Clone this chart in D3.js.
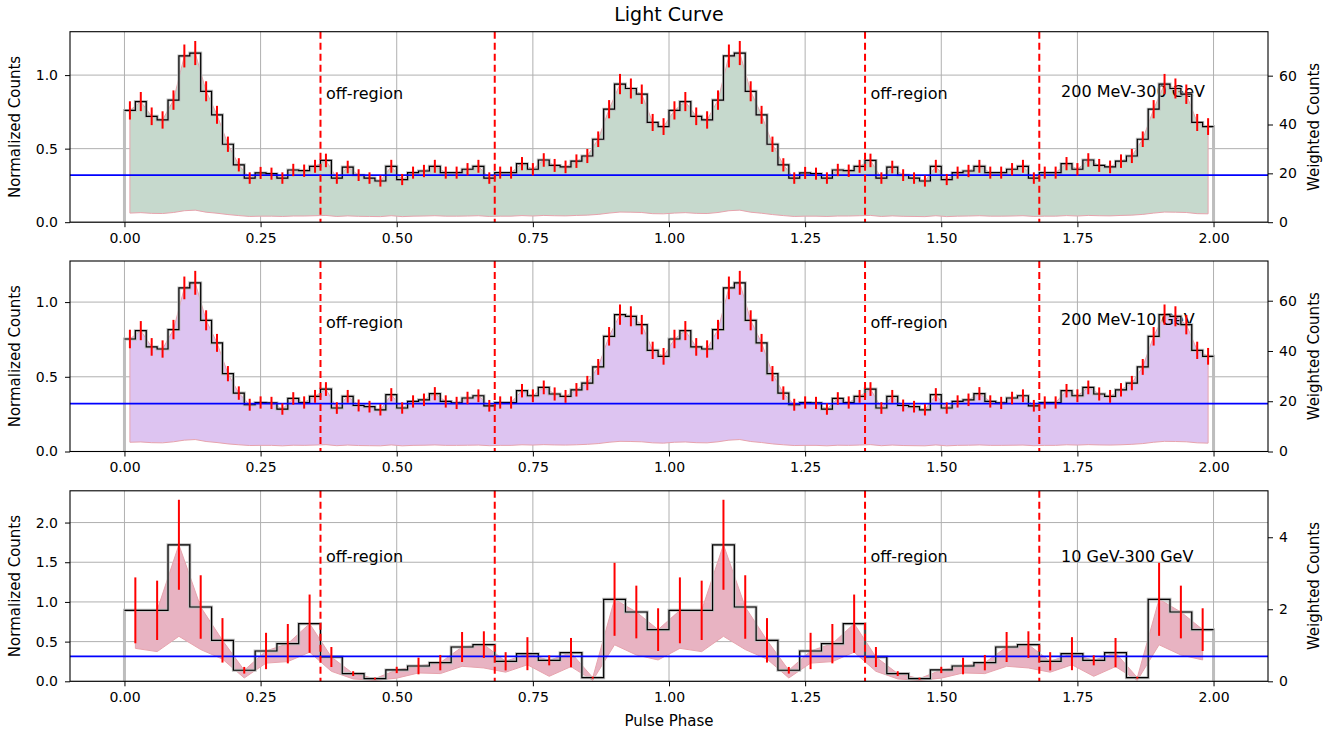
<!DOCTYPE html>
<html>
<head>
<meta charset="utf-8">
<script src="https://cdnjs.cloudflare.com/ajax/libs/d3/7.8.5/d3.min.js"></script>
<style>
	body { margin: 0; background: #fff; }
	text { font-family: "DejaVu Sans", sans-serif; fill: #000; }
</style>
</head>
<body>
<div class="chart"></div>
<script>
// phase bins cover 0..1, the plot shows two cycles (0..2)
var phaseTicks = [0, 0.25, 0.5, 0.75, 1.0, 1.25, 1.5, 1.75, 2.0];
var offRegionEdges = [0.36, 0.68, 1.36, 1.68];
var bandNames = ['200 MeV-300 GeV', '200 MeV-10 GeV', '10 GeV-300 GeV'];

// 200 MeV - 300 GeV, 50 bins
var allCounts = [0.76, 0.82, 0.72, 0.695, 0.83, 1.13, 1.15, 0.89, 0.73, 0.53,
	0.39, 0.30, 0.335, 0.33, 0.30, 0.355, 0.35, 0.38, 0.42, 0.30,
	0.375, 0.32, 0.30, 0.28, 0.38, 0.29, 0.337, 0.348, 0.38, 0.337,
	0.337, 0.36, 0.38, 0.30, 0.337, 0.337, 0.398, 0.36, 0.423, 0.386,
	0.376, 0.415, 0.45, 0.564, 0.768, 0.939, 0.909, 0.87, 0.678, 0.65];
var allErrors = [0.062, 0.065, 0.06, 0.059, 0.066, 0.078, 0.082, 0.068, 0.061, 0.052,
	0.045, 0.039, 0.041, 0.041, 0.039, 0.042, 0.042, 0.044, 0.046, 0.039,
	0.043, 0.04, 0.039, 0.038, 0.044, 0.038, 0.041, 0.042, 0.044, 0.041,
	0.041, 0.042, 0.044, 0.039, 0.041, 0.041, 0.045, 0.042, 0.046, 0.044,
	0.043, 0.046, 0.048, 0.053, 0.062, 0.069, 0.068, 0.066, 0.058, 0.057];

// 200 MeV - 10 GeV, 50 bins
var lowECounts = [0.753, 0.809, 0.70, 0.686, 0.816, 1.095, 1.129, 0.878, 0.727, 0.521,
	0.391, 0.313, 0.328, 0.325, 0.284, 0.355, 0.328, 0.369, 0.418, 0.291,
	0.369, 0.308, 0.30, 0.279, 0.38, 0.291, 0.335, 0.346, 0.387, 0.335,
	0.325, 0.358, 0.373, 0.306, 0.328, 0.328, 0.407, 0.373, 0.429, 0.385,
	0.369, 0.413, 0.458, 0.566, 0.771, 0.916, 0.905, 0.849, 0.677, 0.637];
var lowEErrors = [0.062, 0.064, 0.059, 0.058, 0.065, 0.076, 0.08, 0.067, 0.06, 0.051,
	0.045, 0.04, 0.041, 0.041, 0.038, 0.042, 0.041, 0.043, 0.046, 0.039,
	0.043, 0.04, 0.039, 0.038, 0.044, 0.038, 0.041, 0.042, 0.044, 0.041,
	0.041, 0.042, 0.043, 0.039, 0.041, 0.041, 0.045, 0.043, 0.046, 0.044,
	0.043, 0.045, 0.048, 0.053, 0.062, 0.068, 0.067, 0.065, 0.058, 0.056];

// 10 GeV - 300 GeV, 25 bins
var highECounts = [0.894, 0.894, 1.72, 0.936, 0.516, 0.139, 0.382, 0.474, 0.726, 0.306,
	0.097, 0.034, 0.143, 0.193, 0.235, 0.432, 0.462, 0.252, 0.348, 0.264,
	0.361, 0.046, 1.033, 0.873, 0.651];
var highEErrors = [0.415, 0.374, 0.567, 0.40, 0.28, 0.042, 0.229, 0.248, 0.367, 0.126,
	0.03, 0.012, 0.04, 0.105, 0.097, 0.189, 0.168, 0.115, 0.208, 0.063,
	0.185, 0.012, 0.46, 0.332, 0.269];

var backgroundLevels = [0.32, 0.32, 0.315];
var leftTicks = [[0, 0.5, 1.0], [0, 0.5, 1.0], [0, 0.5, 1.0, 1.5, 2.0]];
var rightTicks = [[0, 20, 40, 60], [0, 20, 40, 60], [0, 2, 4]];
var leftMax = [1.295, 1.275, 2.40];
var rightMax = [78, 75.8, 5.29];

var width = 1333;
var height = 736;
var left = 70, right = 1268;
var panelTops = [31.7, 261, 490.8];
var panelHeight = 190.5;

var svg = d3.select('.chart').append('svg')
	.attr('width', width)
	.attr('height', height);

var x = d3.scaleLinear().domain([-0.1, 2.1]).range([left, right]);

function drawPanel(i, counts, errors, fillColor, textY) {
	var top = panelTops[i];
	var bottom = top + panelHeight;
	var y = d3.scaleLinear().domain([0, leftMax[i]]).range([bottom, top]);
	var y2 = d3.scaleLinear().domain([0, rightMax[i]]).range([bottom, top]);
	var g = svg.append('g').attr('class', 'panel panel' + i);

	// two cycles of phase bins
	var n = counts.length;
	var w = 1 / n;
	var bins = [];
	for (var c = 0; c < 2; c += 1) {
		counts.forEach(function(v, k) {
			bins.push({start: c + k * w, mid: c + (k + 0.5) * w, value: v, err: errors[k]});
		});
	}
	var last = bins[bins.length - 1];

	// grid
	g.append('g').selectAll('line.vgrid')
		.data(phaseTicks).enter().append('line')
		.attr('x1', function(d) { return x(d); })
		.attr('x2', function(d) { return x(d); })
		.attr('y1', top).attr('y2', bottom)
		.attr('stroke', '#b0b0b0').attr('stroke-width', 1);
	g.append('g').selectAll('line.hgrid')
		.data(leftTicks[i]).enter().append('line')
		.attr('x1', left).attr('x2', right)
		.attr('y1', function(d) { return y(d); })
		.attr('y2', function(d) { return y(d); })
		.attr('stroke', '#b0b0b0').attr('stroke-width', 1);

	// band between error and value
	var area = d3.area()
		.x(function(d) { return x(d.mid); })
		.y0(function(d) { return y(d.err); })
		.y1(function(d) { return y(d.value); });
	g.append('path')
		.attr('d', area(bins))
		.attr('fill', fillColor)
		.attr('stroke', '#e7a3ad')
		.attr('stroke-width', 1);

	// labels inside the axes: over the band, under the curves
	[0.37, 1.37].forEach(function(p) {
		g.append('text')
			.attr('x', x(p)).attr('y', y(textY[0]))
			.attr('font-size', 16)
			.text('off-region');
	});
	g.append('text')
		.attr('x', x(1.72)).attr('y', y(textY[1]))
		.attr('font-size', 16)
		.text(bandNames[i]);

	// histogram outline
	var step = d3.line()
		.x(function(d) { return x(d[0]); })
		.y(function(d) { return y(d[1]); })
		.curve(d3.curveStepAfter);
	var outline = [[0, 0]].concat(bins.map(function(d) { return [d.start, d.value]; }));
	outline.push([2, last.value], [2, 0]);
	g.append('path')
		.attr('d', step(outline))
		.attr('fill', 'none')
		.attr('stroke', '#bdbdbd')
		.attr('stroke-width', 3);
	var line = bins.map(function(d) { return [d.start, d.value]; });
	line.push([2, last.value]);
	g.append('path')
		.attr('d', step(line))
		.attr('fill', 'none')
		.attr('stroke', '#000')
		.attr('stroke-width', 1.2);

	// background level
	g.append('line')
		.attr('x1', left).attr('x2', right)
		.attr('y1', y(backgroundLevels[i])).attr('y2', y(backgroundLevels[i]))
		.attr('stroke', '#0000ff').attr('stroke-width', 1.8);

	// off-region bounds
	g.append('g').selectAll('line')
		.data(offRegionEdges).enter().append('line')
		.attr('x1', function(d) { return x(d); })
		.attr('x2', function(d) { return x(d); })
		.attr('y1', top).attr('y2', bottom)
		.attr('stroke', '#ff0000').attr('stroke-width', 2)
		.attr('stroke-dasharray', '7,4');

	// error bars
	g.append('g').selectAll('line')
		.data(bins).enter().append('line')
		.attr('x1', function(d) { return x(d.mid); })
		.attr('x2', function(d) { return x(d.mid); })
		.attr('y1', function(d) { return y(d.value - d.err); })
		.attr('y2', function(d) { return y(d.value + d.err); })
		.attr('stroke', '#ff0000').attr('stroke-width', 2);

	// spines
	g.append('rect')
		.attr('x', left).attr('y', top)
		.attr('width', right - left).attr('height', panelHeight)
		.attr('fill', 'none').attr('stroke', '#000').attr('stroke-width', 1.1);

	// axes
	var xAxis = g.append('g')
		.attr('transform', 'translate(0,' + bottom + ')')
		.call(d3.axisBottom(x).tickValues(phaseTicks).tickFormat(d3.format('.2f')).tickSize(5).tickPadding(6));
	var yAxis = g.append('g')
		.attr('transform', 'translate(' + left + ',0)')
		.call(d3.axisLeft(y).tickValues(leftTicks[i]).tickFormat(d3.format('.1f')).tickSize(5).tickPadding(7));
	var y2Axis = g.append('g')
		.attr('transform', 'translate(' + right + ',0)')
		.call(d3.axisRight(y2).tickValues(rightTicks[i]).tickFormat(d3.format('d')).tickSize(5).tickPadding(6));
	[xAxis, yAxis, y2Axis].forEach(function(a) {
		a.select('.domain').remove();
		a.selectAll('text').attr('font-size', 14).attr('font-family', '"DejaVu Sans", sans-serif').attr('fill', '#262626');
		a.selectAll('line').attr('stroke', '#000');
	});

	// axis titles
	g.append('text')
		.attr('transform', 'translate(20,' + (top + panelHeight / 2) + ') rotate(-90)')
		.attr('text-anchor', 'middle')
		.attr('font-size', 15)
		.text('Normalized Counts');
	g.append('text')
		.attr('transform', 'translate(1319,' + (top + panelHeight / 2) + ') rotate(-90)')
		.attr('text-anchor', 'middle')
		.attr('font-size', 15)
		.text('Weighted Counts');
}

drawPanel(0, allCounts, allErrors, '#c6d9cd', [0.836, 0.854]);
drawPanel(1, lowECounts, lowEErrors, '#ddc4f1', [0.829, 0.849]);
drawPanel(2, highECounts, highEErrors, '#e8b3c2', [1.5, 1.5]);

svg.append('text')
	.attr('x', (left + right) / 2).attr('y', 21)
	.attr('text-anchor', 'middle')
	.attr('font-size', 19)
	.text('Light Curve');
svg.append('text')
	.attr('x', (left + right) / 2).attr('y', 726)
	.attr('text-anchor', 'middle')
	.attr('font-size', 15)
	.text('Pulse Phase');
</script>
</body>
</html>
